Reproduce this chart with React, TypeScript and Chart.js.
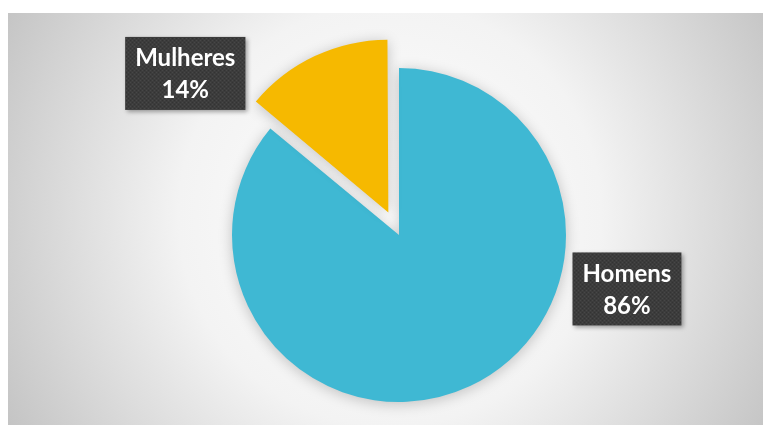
import React, { useEffect, useRef } from "react";
import { Chart, registerables } from "chart.js";

Chart.register(...registerables);

const categories = ["Homens", "Mulheres"];
const values = [86, 14];
const percentLabels = ["86%", "14%"];
const colors = ["#3FB8D3", "#F6B900"];
// Chart.js 4 arcs are moved by offset / 4 pixels
const offsets = [0, 100];

// label box placement relative to each arc (in units of the outer radius)
const labelPlacement = [
  { fx: 1.365, fy: 0.323 },
  { fx: -1.216, fy: -0.832 },
];

function makePattern(ctx: CanvasRenderingContext2D) {
  const c = document.createElement("canvas");
  c.width = 4;
  c.height = 4;
  const p = c.getContext("2d")!;
  p.fillStyle = "#3c3c3c";
  p.fillRect(0, 0, 4, 4);
  p.fillStyle = "#474747";
  p.fillRect(0, 0, 1, 1);
  p.fillRect(2, 2, 1, 1);
  p.fillStyle = "#333333";
  p.fillRect(2, 0, 1, 1);
  p.fillRect(0, 2, 1, 1);
  return ctx.createPattern(c, "repeat") || "#3c3c3c";
}

const bgPlugin = {
  id: "bg",
  beforeDraw(chart: any) {
    const ctx = chart.ctx as CanvasRenderingContext2D;
    const x0 = 8, y0 = 13, w = chart.width - 8, h = chart.height - 13;
    ctx.save();
    const cx = 390, cy = 215;
    const g = ctx.createRadialGradient(cx, cy, 0, cx, cy, 470);
    g.addColorStop(0, "#ffffff");
    g.addColorStop(0.45, "#f3f3f3");
    g.addColorStop(1, "#bdbdbd");
    ctx.fillStyle = g;
    ctx.fillRect(x0, y0, w, h);
    ctx.restore();
  },
};

const shadowPlugin = {
  id: "shadow",
  beforeDatasetsDraw(chart: any) {
    const ctx = chart.ctx as CanvasRenderingContext2D;
    ctx.save();
    ctx.shadowColor = "rgba(0,0,0,0.22)";
    ctx.shadowBlur = 14;
    ctx.shadowOffsetX = 0;
    ctx.shadowOffsetY = 2;
  },
  afterDatasetsDraw(chart: any) {
    chart.ctx.restore();
  },
};

const labelPlugin = {
  id: "boxLabels",
  afterDatasetsDraw(chart: any) {
    const ctx = chart.ctx as CanvasRenderingContext2D;
    const meta = chart.getDatasetMeta(0);
    const pattern = makePattern(ctx);
    const fontSize = 24;
    ctx.save();
    ctx.font = `bold ${fontSize}px Lato, "Open Sans", sans-serif`;
    meta.data.forEach((arc: any, i: number) => {
      const props = arc.getProps(["x", "y", "outerRadius", "startAngle", "endAngle"], true);
      const mid = (props.startAngle + props.endAngle) / 2;
      const off = (offsets[i] || 0) / 4;
      const ax = props.x + Math.cos(mid) * off;
      const ay = props.y + Math.sin(mid) * off;
      const pl = labelPlacement[i];
      const cx = ax + props.outerRadius * pl.fx;
      const cy = ay + props.outerRadius * pl.fy;
      const lines = [categories[i], percentLabels[i]];
      const tw = Math.max(...lines.map((l) => ctx.measureText(l).width));
      const bw = tw + 20;
      const lh = 32;
      const bh = lh * 2 + 9;
      const bx = cx - bw / 2;
      const by = cy - bh / 2;
      ctx.save();
      ctx.shadowColor = "rgba(0,0,0,0.35)";
      ctx.shadowBlur = 4;
      ctx.shadowOffsetX = 2;
      ctx.shadowOffsetY = 2;
      ctx.fillStyle = pattern as any;
      ctx.fillRect(bx, by, bw, bh);
      ctx.restore();
      ctx.fillStyle = "#ffffff";
      ctx.textAlign = "center";
      ctx.textBaseline = "middle";
      ctx.fillText(lines[0], cx, cy - lh / 2 + 1);
      ctx.fillText(lines[1], cx, cy + lh / 2 + 1);
    });
    ctx.restore();
  },
};

export default function App() {
  const ref = useRef<HTMLCanvasElement>(null);
  useEffect(() => {
    const chart = new Chart(ref.current!, {
      type: "pie",
      data: {
        labels: categories,
        datasets: [
          {
            data: values,
            backgroundColor: colors,
            borderWidth: 0,
            offset: offsets,
            clip: false,
          } as any,
        ],
      },
      options: {
        animation: false,
        responsive: false,
        radius: 167,
        layout: { padding: { left: 35, top: 45, right: 0, bottom: 0 } },
        plugins: {
          legend: { display: false },
          tooltip: { enabled: false },
        },
      } as any,
      plugins: [bgPlugin, shadowPlugin, labelPlugin],
    });
    return () => chart.destroy();
  }, []);
  return (
    <div style={{ position: "fixed", left: 0, top: 0, width: 763, height: 425 }}>
      <canvas ref={ref} width={763} height={425} style={{ width: 763, height: 425 }} />
    </div>
  );
}
